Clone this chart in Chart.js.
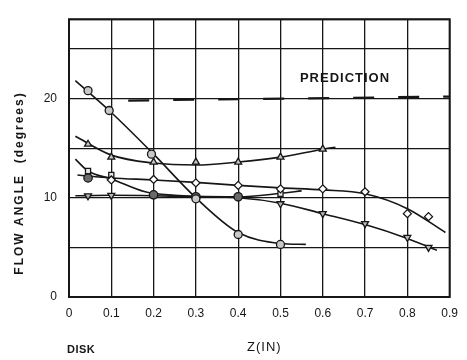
<!DOCTYPE html>
<html lang="en">
  <head>
    <meta charset="UTF-8" />
    <title>Flow angle vs Z</title>
    <script src="https://cdn.jsdelivr.net/npm/chart.js"></script>
    <style>
      html,
      body {
        margin: 0;
        background: #fff;
      }
      #wrap {
        width: 467px;
        height: 360px;
      }
    </style>
  </head>
  <body>
    <div id="wrap"><canvas id="angleChart"></canvas></div>
    <script>
      // measured points (Z in inches, angle in degrees)
      const circleZ = [0.045, 0.095, 0.195, 0.3, 0.4, 0.5];
      const circleAngle = [20.8, 18.8, 14.4, 9.9, 6.3, 5.3];
      const triUpZ = [0.045, 0.1, 0.2, 0.3, 0.4, 0.5, 0.6];
      const triUpAngle = [15.4, 14.1, 13.6, 13.6, 13.6, 14.1, 14.9];
      const diamondZ = [0.1, 0.2, 0.3, 0.4, 0.5, 0.6, 0.7, 0.8, 0.85];
      const diamondAngle = [11.8, 11.85, 11.5, 11.25, 10.9, 10.9, 10.6, 8.4, 8.1];
      const squareZ = [0.045, 0.1, 0.5];
      const squareAngle = [12.7, 12.3, 10.4];
      const filledZ = [0.045, 0.2, 0.3, 0.4];
      const filledAngle = [12.0, 10.3, 10.1, 10.1];
      const triDownZ = [0.045, 0.1, 0.5, 0.6, 0.7, 0.8, 0.85];
      const triDownAngle = [10.2, 10.25, 9.4, 8.4, 7.4, 6.0, 5.0];

      // faired curves through the data
      const circleFitZ = [0.015, 0.1, 0.2, 0.3, 0.4, 0.5, 0.56];
      const circleFitAngle = [21.8, 18.6, 14.4, 10.0, 6.5, 5.4, 5.3];
      const triUpFitZ = [0.015, 0.1, 0.2, 0.3, 0.4, 0.5, 0.6, 0.63];
      const triUpFitAngle = [16.2, 14.3, 13.5, 13.3, 13.6, 14.1, 14.9, 15.1];
      const diamondFitZ = [0.02, 0.1, 0.2, 0.3, 0.4, 0.5, 0.6, 0.7, 0.8, 0.89];
      const diamondFitAngle = [12.3, 12.0, 11.8, 11.55, 11.25, 11.0, 10.8, 10.4, 8.9, 6.5];
      const squareFitZ = [0.015, 0.045, 0.1, 0.18, 0.25, 0.3, 0.4, 0.5, 0.55];
      const squareFitAngle = [13.9, 12.7, 11.9, 10.6, 10.25, 10.15, 10.1, 10.45, 10.7];
      const triDownFitZ = [0.015, 0.1, 0.2, 0.3, 0.4, 0.5, 0.6, 0.7, 0.8, 0.87];
      const triDownFitAngle = [10.2, 10.25, 10.2, 10.1, 10.0, 9.45, 8.4, 7.3, 5.9, 4.7];

      const predictionZ = [0.14, 0.9];
      const predictionAngle = [19.8, 20.2];

      const xTicks = [0, 0.1, 0.2, 0.3, 0.4, 0.5, 0.6, 0.7, 0.8, 0.9];
      const yLabelled = [0, 10, 20];

      const ink = "#161616";
      const pts = (xs, ys) => xs.map((x, i) => ({ x, y: ys[i] }));

      function curve(xs, ys) {
        return {
          type: "line",
          data: pts(xs, ys),
          borderColor: ink,
          borderWidth: 1.6,
          pointRadius: 0,
          cubicInterpolationMode: "monotone",
          fill: false,
          order: 2,
        };
      }

      function marks(xs, ys, style, fill, extra) {
        return Object.assign(
          {
            type: "scatter",
            data: pts(xs, ys),
            pointStyle: style,
            pointRadius: 4,
            pointBackgroundColor: fill,
            pointBorderColor: ink,
            pointBorderWidth: 1.3,
            showLine: false,
            order: 1,
          },
          extra || {}
        );
      }

      // box around the plot plus the free text
      const frameAndText = {
        id: "frameAndText",
        afterDraw(chart) {
          const { ctx, chartArea: a } = chart;
          ctx.save();
          ctx.strokeStyle = ink;
          ctx.lineWidth = 2;
          ctx.strokeRect(a.left, a.top, a.right - a.left, a.bottom - a.top);

          ctx.fillStyle = ink;
          ctx.textAlign = "center";
          ctx.textBaseline = "middle";

          ctx.font = "bold 13px 'Liberation Sans', Arial, sans-serif";
          ctx.letterSpacing = "1px";
          ctx.fillText("PREDICTION", 345, 78);

          ctx.font = "bold 11px 'Liberation Sans', Arial, sans-serif";
          ctx.letterSpacing = "0.5px";
          ctx.textAlign = "left";
          ctx.fillText("DISK", 67, 350);

          ctx.font = "13px 'Liberation Sans', Arial, sans-serif";
          ctx.letterSpacing = "1px";
          ctx.fillText("Z(IN)", 247, 347);

          ctx.translate(20, 183);
          ctx.rotate(-Math.PI / 2);
          ctx.textAlign = "center";
          ctx.font = "bold 12px 'Liberation Sans', Arial, sans-serif";
          ctx.letterSpacing = "2px";
          ctx.fillText("FLOW ANGLE  (degrees)", 0, 0);
          ctx.restore();
        },
      };

      new Chart(document.getElementById("angleChart"), {
        type: "scatter",
        data: {
          datasets: [
            curve(circleFitZ, circleFitAngle),
            curve(triUpFitZ, triUpFitAngle),
            curve(diamondFitZ, diamondFitAngle),
            curve(squareFitZ, squareFitAngle),
            curve(triDownFitZ, triDownFitAngle),
            {
              type: "line",
              data: pts(predictionZ, predictionAngle),
              borderColor: ink,
              borderWidth: 2.2,
              borderDash: [21, 24],
              pointRadius: 0,
              order: 2,
            },
            marks(circleZ, circleAngle, "circle", "#c8c8c8"),
            marks(triUpZ, triUpAngle, "triangle", "#c8c8c8"),
            marks(diamondZ, diamondAngle, "rectRot", "#ffffff"),
            marks(squareZ, squareAngle, "rect", "#e6e6e6", { pointRadius: 3.6 }),
            marks(filledZ, filledAngle, "circle", "#6a6a6a", { pointRadius: 4.2 }),
            marks(triDownZ, triDownAngle, "triangle", "#b8b8b8", {
              pointRotation: 180,
            }),
          ],
        },
        options: {
          responsive: true,
          maintainAspectRatio: false,
          animation: false,
          events: [],
          layout: { padding: { top: 14, right: 16, left: 0, bottom: 0 } },
          plugins: {
            legend: { display: false },
            tooltip: { enabled: false },
          },
          scales: {
            x: {
              type: "linear",
              min: 0,
              max: 0.9,
              afterFit: (s) => (s.height = 63),
              afterBuildTicks: (s) => (s.ticks = xTicks.map((v) => ({ value: v }))),
              grid: { color: ink, lineWidth: 1.3, drawTicks: false },
              border: { display: false },
              ticks: {
                padding: 9,
                color: ink,
                font: { size: 12, family: "'Liberation Sans', Arial, sans-serif" },
                callback: (v) => (v === 0 ? "0" : v.toFixed(1)),
              },
            },
            y: {
              min: 0,
              max: 28,
              afterFit: (s) => (s.width = 69),
              ticks: {
                stepSize: 5,
                padding: 12,
                color: ink,
                font: { size: 12, family: "'Liberation Sans', Arial, sans-serif" },
                callback: (v) => (yLabelled.includes(v) ? String(v) : ""),
              },
              grid: { color: ink, lineWidth: 1.3, drawTicks: false },
              border: { display: false },
            },
          },
        },
        plugins: [frameAndText],
      });
    </script>
  </body>
</html>
